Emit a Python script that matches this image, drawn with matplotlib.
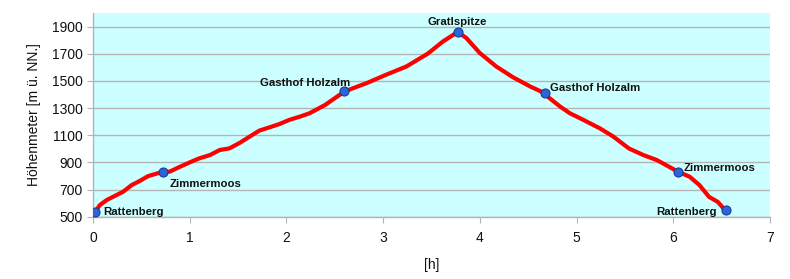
import matplotlib
matplotlib.use('Agg')
import matplotlib.pyplot as plt

plt.rcParams['font.family'] = ['Liberation Sans', 'DejaVu Sans']

# profile: time [h] and altitude [m]
zeit = [0.02, 0.07, 0.14, 0.22, 0.31, 0.40, 0.48, 0.57, 0.72, 0.79, 0.90, 1.00,
        1.10, 1.21, 1.31, 1.41, 1.52, 1.62, 1.72, 1.83, 1.93, 2.03, 2.14, 2.24,
        2.40, 2.60, 2.83, 3.03, 3.24, 3.46, 3.62, 3.77, 3.86, 4.00, 4.17, 4.34,
        4.52, 4.67, 4.72, 4.83, 4.93, 5.07, 5.24, 5.38, 5.54, 5.69, 5.83, 6.05,
        6.17, 6.27, 6.37, 6.46, 6.52, 6.55]
hoehe = [532, 585, 622, 651, 683, 733, 762, 799, 831, 831, 868, 900,
         930, 954, 991, 1003, 1045, 1090, 1134, 1159, 1183, 1213, 1237, 1262,
         1323, 1422, 1484, 1545, 1606, 1700, 1791, 1860, 1816, 1705, 1606, 1528,
         1459, 1410, 1373, 1311, 1262, 1213, 1151, 1090, 1003, 954, 917, 831,
         794, 733, 646, 609, 561, 548]

# waypoints
orte = ['Rattenberg', 'Zimmermoos', 'Gasthof Holzalm', 'Gratlspitze',
        'Gasthof Holzalm', 'Zimmermoos', 'Rattenberg']
orte_x = [0.02, 0.72, 2.60, 3.77, 4.67, 6.05, 6.55]
orte_y = [532, 831, 1422, 1860, 1410, 831, 548]
# label offsets (points) and alignment
versatz = [(6, 0, 'left'), (5, -9, 'left'), (4, 6, 'right'), (0, 7, 'center'),
           (4, 4, 'left'), (4, 3, 'left'), (-7, -1, 'right')]

fig = plt.figure(figsize=(7.9, 2.79), dpi=100)
ax = fig.add_axes([93 / 790, 1 - 216.7 / 279, 677 / 790, 203.7 / 279])
ax.set_facecolor('#ccffff')

ax.plot(zeit, hoehe, color='#ff0000', lw=3.0, solid_capstyle='round',
        solid_joinstyle='round', zorder=3)
ax.plot(orte_x, orte_y, 'o', ms=6.5, color='#2f63d8', mec='#1a3c99',
        mew=0.8, zorder=4)

for name, x, y, (dx, dy, ha) in zip(orte, orte_x, orte_y, versatz):
    ax.annotate(name, (x, y), xytext=(dx, dy), textcoords='offset points',
                ha=ha, va='center', fontsize=8.2, fontweight='bold',
                color='#111111', zorder=5)

ax.set_xlim(0, 7)
ax.set_ylim(500, 2000)
ax.set_xticks(range(0, 8))
ax.set_yticks(range(500, 2000, 200))
ax.grid(axis='y', color='#b4b4b4', lw=1)
ax.set_axisbelow(True)
for s in ['top', 'right']:
    ax.spines[s].set_visible(False)
for s in ['left', 'bottom']:
    ax.spines[s].set_color('#b4b4b4')
    ax.spines[s].set_linewidth(1)
ax.tick_params(axis='both', colors='#b4b4b4', length=4, labelsize=10,
               labelcolor='#111111')
ax.tick_params(axis='x', pad=6)

ax.set_ylabel('Höhenmeter [m ü. NN.]', fontsize=10, color='#111111',
              labelpad=8)
ax.set_xlabel('[h]', fontsize=10, color='#111111', labelpad=10)

fig.savefig('out.png', dpi=100, facecolor='white')
